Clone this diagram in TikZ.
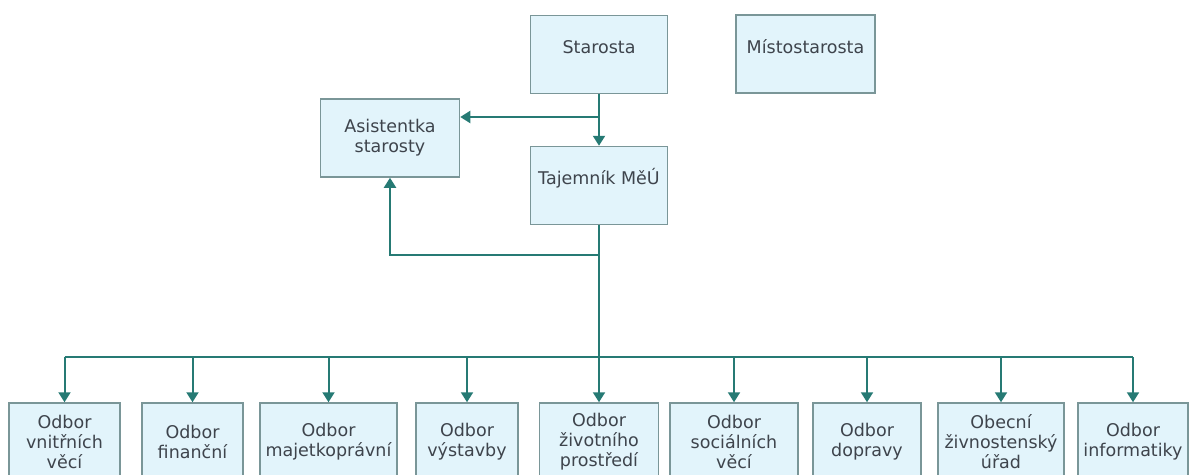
\documentclass[tikz,border=0pt]{standalone}
\usepackage{fontspec}
\setmainfont{DejaVu Sans}
\usetikzlibrary{arrows.meta}
\definecolor{linkcol}{RGB}{38,122,116}
\definecolor{boxfill}{RGB}{226,244,251}
\definecolor{boxdraw}{RGB}{122,150,152}
\definecolor{txtcol}{RGB}{62,68,76}
\tikzset{
  unit/.style={draw=boxdraw,fill=boxfill,line width=1.5pt,text=txtcol,
    font=\fontsize{17.5}{20}\selectfont,inner xsep=1pt,
    minimum height=78pt},                       % box of one office
  head/.style={unit,text height=12pt,text depth=14pt},
  line/.style={linkcol,line width=2pt},
  link/.style={line,-{Triangle[width=12pt,length=10pt]}},
}

\begin{document}
\begin{tikzpicture}[x=1pt,y=-1pt]
  \useasboundingbox (0,0) rectangle (1190,474);
  % top of the office
  \node[head,minimum width=137pt] (starosta) at (599,54.5) {Starosta};
  \node[head,minimum width=139pt] (mistost) at (805.5,54) {Místostarosta};
  \node[head,minimum width=137pt] (tajemnik) at (599,185.5) {Tajemník MěÚ};
  \node[unit,align=center,minimum width=139pt] (asist) at (390,138) {Asistentka\\starosty};
  \draw[link] (starosta) -- (tajemnik);
  \coordinate (split) at (599,117);
  \draw[link] (split) -- (split -| asist.east);
  \coordinate (fork) at (599,255);
  \draw[link] (fork) -| (asist.south);
  % departments
  \coordinate (bus) at (0,357);
  \foreach \n/\x/\w/\t in {
      o1/64.5/111/{Odbor\\vnitřních\\věcí},
      o2/192.5/101/{Odbor\\finanční},
      o3/328.5/137/{Odbor\\majetkoprávní},
      o4/467/102/{Odbor\\výstavby},
      o5/599/119/{Odbor\\životního\\prostředí},
      o6/734/128/{Odbor\\sociálních\\věcí},
      o7/867/108/{Odbor\\dopravy},
      o8/1001/126/{Obecní\\živnostenský\\úřad},
      o9/1133/110/{Odbor\\informatiky}} {
    \node[unit,align=center,minimum width=\w pt] (\n) at (\x,442) {\t};
    \draw[link] (\n.north |- bus) -- (\n.north);
  }
  \draw[line] (tajemnik.south) -- (tajemnik.south |- bus);
  \draw[line] (o1.north |- bus) -- (o9.north |- bus);
\end{tikzpicture}
\end{document}
